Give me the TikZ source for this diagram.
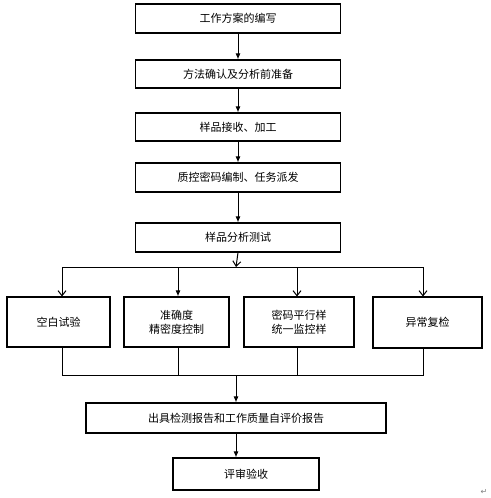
\documentclass[tikz,border=0pt]{standalone}
\usepackage{fontspec}
\setmainfont{Noto Sans CJK SC}
\newfontfamily\symfont{DejaVu Sans}
\usetikzlibrary{arrows.meta,positioning}
\begin{document}
\begin{tikzpicture}[x=1pt,y=-1pt,
  box/.style={draw=black,line width=1.1pt,align=center,font=\fontsize{11}{14}\selectfont,inner sep=0pt},
  conn/.style={draw=black,line width=1pt},
  fa/.style={conn,-{Latex[length=6pt,width=5pt]}},
  oa/.style={conn,-{Straight Barb[length=5pt,width=8pt]}}]
\useasboundingbox (0,0) rectangle (490,498);
\fill[white] (0,0) rectangle (490,498);
% top chain
\node[box,minimum width=205pt,minimum height=29pt] (b1) at (238,18.5) {工作方案的编写};
\node[box,minimum width=205pt,minimum height=28pt] (b2) at (238,74) {方法确认及分析前准备};
\node[box,minimum width=205pt,minimum height=28pt] (b3) at (238,127) {样品接收、加工};
\node[box,minimum width=205pt,minimum height=29pt] (b4) at (238,177.5) {质控密码编制、任务派发};
\node[box,minimum width=205pt,minimum height=29pt] (b5) at (238,237.5) {样品分析测试};
% bottom row
\node[box,minimum width=103pt,minimum height=50pt] (c1) at (58.5,322) {空白试验};
\node[box,minimum width=105pt,minimum height=50pt] (c2) at (176.5,322) {准确度\\精密度控制};
\node[box,minimum width=110pt,minimum height=50pt] (c3) at (299,322) {密码平行样\\统一监控样};
\node[box,minimum width=109pt,minimum height=51pt] (c4) at (427.5,322.5) {异常复检};
% final
\node[box,minimum width=300pt,minimum height=30pt] (d1) at (236,418) {出具检测报告和工作质量自评价报告};
\node[box,minimum width=146pt,minimum height=32pt] (d2) at (246,474) {评审验收};
% coordinates
\coordinate (sp) at (236,267);
\coordinate (sl) at (62,267);
\coordinate (sr) at (423,267);
\coordinate (j2) at (178,267);
\coordinate (j3) at (297,267);
\coordinate (ml) at (62,375);
\coordinate (mr) at (423,375);
\coordinate (mc) at (236,375);
\coordinate (m2) at (178,375);
\coordinate (m3) at (297,375);
% arrows top
\draw[fa] (b1.south) -- (b2.north);
\draw[fa] (b2.south) -- (b3.north);
\draw[fa] (b3.south) -- (b4.north);
\draw[fa] (b4.south) -- (b5.north);
\draw[oa] (b5.south) -- (sp);
\draw[conn] (sl) -- (sr);
\draw[oa] (sl) -- (sl |- c1.north);
\draw[fa] (j2) -- (j2 |- c2.north);
\draw[oa] (j3) -- (j3 |- c3.north);
\draw[oa] (sr) -- (sr |- c4.north);
% collect
\draw[conn] (ml |- c1.south) -- (ml) -- (mr) -- (mr |- c4.south);
\draw[conn] (m2 |- c2.south) -- (m2);
\draw[conn] (m3 |- c3.south) -- (m3);
\draw[fa] (mc) -- (mc |- d1.north);
\draw[fa] (mc |- d1.south) -- (mc |- d2.north);
\node[font=\symfont\fontsize{8}{8}\selectfont,text=gray,inner sep=0pt] (pm) at (484,492) {↵};
\end{tikzpicture}
\end{document}
